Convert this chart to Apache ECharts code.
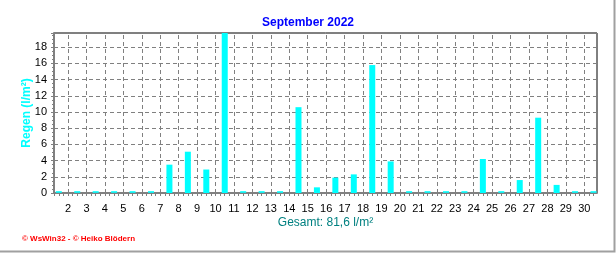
<!DOCTYPE html>
<html>
<head>
<meta charset="utf-8">
<script src="https://cdn.jsdelivr.net/npm/echarts@6/dist/echarts.min.js"></script>
<style>html,body{margin:0;padding:0;background:#fff;}#c{width:616px;height:253px;}</style>
</head>
<body>
<div id="c"></div>
<script>
// ---- data ----
const titleText = 'September 2022';
const days = [1,2,3,4,5,6,7,8,9,10,11,12,13,14,15,16,17,18,19,20,21,22,23,24,25,26,27,28,29,30];
const rain = [0,0,0,0,0,0,3.5,5.1,2.9,19.8,0,0,0,10.6,0.7,1.9,2.3,15.8,3.9,0,0,0,0,4.2,0,1.6,9.3,1.0,0,0];
const xTickLabels = [2,3,4,5,6,7,8,9,10,11,12,13,14,15,16,17,18,19,20,21,22,23,24,25,26,27,28,29,30];
const yTicks = [0,2,4,6,8,10,12,14,16,18];
const yName = 'Regen (l/m²)';
const totalText = 'Gesamt: 81,6 l/m²';
const footer = '© WsWin32 - © Heiko Blödern';

// ---- build ----
const barData = [];
const zeroData = [];
days.forEach((d, i) => {
  if (rain[i] > 0) barData.push([d + 0.5, rain[i]]);
  else zeroData.push([d + 0.5, 0]);
});
const minorX = [];
for (let v = 1.25; v <= 30.6; v += 0.25) minorX.push(+v.toFixed(2));

const chart = echarts.init(document.getElementById('c'), null, {renderer: 'canvas'});
chart.setOption({
  animation: false,
  backgroundColor: '#ffffff',
  title: {
    text: titleText, left: 'center', top: 12,
    textStyle: {color: '#0000ff', fontSize: 12, fontWeight: 'bold', fontFamily: 'Liberation Sans, Arial, sans-serif'}
  },
  grid: {left: 54, right: 19, top: 33, bottom: 60, show: true, borderColor: '#000000', borderWidth: 1, backgroundColor: 'transparent'},
  xAxis: {
    type: 'value', min: 1.24, max: 30.69,
    name: totalText, nameLocation: 'middle', nameGap: 24, nameMoveOverlap: false,
    nameTextStyle: {color: '#008080', fontSize: 12, fontFamily: 'Liberation Sans, Arial, sans-serif'},
    axisLine: {show: true, lineStyle: {color: '#808080', width: 2}},
    axisTick: {show: true, customValues: minorX, length: 3, lineStyle: {color: '#808080'}},
    axisLabel: {customValues: xTickLabels, color: '#000', fontSize: 11, margin: 10, fontFamily: 'Liberation Sans, Arial, sans-serif',
      formatter: v => String(Math.round(v))},
    splitLine: {show: false}
  },
  yAxis: {
    type: 'value', min: 0, max: 19.76, interval: 2,
    name: yName, nameLocation: 'middle', nameGap: 21, nameRotate: 90, nameMoveOverlap: false,
    nameTextStyle: {color: '#00ffff', fontSize: 12, fontWeight: 'bold', fontFamily: 'Liberation Sans, Arial, sans-serif'},
    axisLine: {show: true, lineStyle: {color: '#808080', width: 2}},
    axisTick: {show: true, length: 3, lineStyle: {color: '#808080'}},
    minorTick: {show: true, splitNumber: 4, length: 2, lineStyle: {color: '#808080'}},
    axisLabel: {color: '#000', fontSize: 11, margin: 7, showMaxLabel: false, fontFamily: 'Liberation Sans, Arial, sans-serif',
      formatter: v => (yTicks.indexOf(v) >= 0 ? String(v) : '')},
    splitLine: {show: true, lineStyle: {color: '#808080', type: [4, 3], width: 1}}
  },
  series: [
    {
      type: 'bar', data: barData, barWidth: 6, clip: true,
      itemStyle: {color: '#00ffff'},
      markLine: {
        silent: true, symbol: 'none', label: {show: false},
        lineStyle: {color: '#808080', type: [4, 3], width: 1},
        data: xTickLabels.map(v => ({xAxis: v}))
      },
      z: 3
    },
    {
      type: 'scatter', data: zeroData, symbol: 'rect', symbolSize: [6, 2], symbolOffset: [0, -1],
      itemStyle: {color: '#00ffff'}, z: 4
    }
  ],
  graphic: [
    {type: 'text', left: 22, top: 235, style: {text: footer, fill: '#ff0000', fontSize: 8, fontWeight: 'bold', fontFamily: 'Liberation Sans, Arial, sans-serif'}},
    {type: 'polyline', shape: {points: [[614.5, 0], [614.5, 251.5], [0, 251.5]]}, style: {stroke: '#a0a0a0', lineWidth: 2, fill: null}}
  ]
});
</script>
</body>
</html>
